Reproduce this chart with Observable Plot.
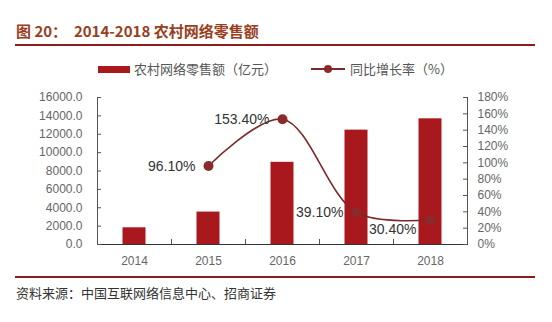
<!DOCTYPE html>
<html><head><meta charset="utf-8">
<script src="https://cdn.jsdelivr.net/npm/d3@7"></script>
<script src="https://cdn.jsdelivr.net/npm/@observablehq/plot@0.6"></script>
<style>
body{margin:0;background:#fff;}
#wrap{position:relative;width:552px;height:322px;overflow:hidden;font-family:"Liberation Sans",Arial,sans-serif;}
.abs{position:absolute;}
#title{left:16px;top:20px;font-family:"Noto Sans CJK SC";font-weight:bold;font-size:15px;color:#9a3e22;white-space:nowrap;}
.rule{position:absolute;left:15px;width:520px;height:2px;background:#8e1c1c;}
#caption{left:16px;top:283px;font-family:"Noto Sans CJK SC";font-size:13px;color:#333;white-space:nowrap;}
.leg{font-family:"Noto Sans CJK SC";font-size:13px;color:#555;white-space:nowrap;top:59px;}
#chart{left:0;top:85px;}
</style></head>
<body><div id="wrap">
<div id="title" class="abs">图 20：&nbsp; 2014-2018 农村网络零售额</div>
<div class="rule" style="top:44px"></div>
<div class="abs" style="left:98px;top:66px;width:32px;height:7px;background:#a8181d"></div>
<div class="abs leg" style="left:134px">农村网络零售额（亿元）</div>
<div class="abs" style="left:311px;top:68px;width:34px;height:2px;background:#7a2a2a"></div>
<div class="abs" style="left:324px;top:65px;width:8px;height:8px;border-radius:50%;background:#8a2b2b"></div>
<div class="abs leg" style="left:350px">同比增长率（%）</div>
<div id="chart" class="abs"></div>
<div class="rule" style="top:276px"></div>
<div id="caption" class="abs">资料来源：中国互联网络信息中心、招商证券</div>
</div>
<script>
const years = ["2014","2015","2016","2017","2018"];
const sales = [1817, 3530, 8945, 12449, 13679];
const growthYears = ["2015","2016","2017","2018"];
const growth = [96.1, 153.4, 39.1, 30.4];
const growthLabels = ["96.10%","153.40%","39.10%","30.40%"];
const leftTicks = [0,2000,4000,6000,8000,10000,12000,14000,16000];
const rightTicks = [0,20,40,60,80,100,120,140,160,180];

const K = 16000/180;
const barData = years.map((y,i)=>({year:y, v:sales[i]}));
const lineData = growthYears.map((y,i)=>({year:y, g:growth[i], label:growthLabels[i]}));
const W = 552, H = 187, mL = 97, mR = 85, mT = 12, mB = 28;
const pw = W - mL - mR, ph = H - mT - mB;
const axisColor = "#555", labelColor = "#666";

const chart = Plot.plot({
  width: W, height: H,
  marginLeft: mL, marginRight: mR, marginTop: mT, marginBottom: mB,
  style: {fontFamily: "Liberation Sans, Arial, sans-serif", fontSize: "12px", background: "#fff"},
  x: {type: "band", domain: years, padding: 0, axis: null},
  y: {domain: [0, 16000], axis: null},
  marks: [
    Plot.barY(barData, {x: "year", y: "v", fill: "#a8181d", insetLeft: 25.5, insetRight: 25.5}),
    Plot.frame({anchor: "left", stroke: axisColor}),
    Plot.frame({anchor: "right", stroke: axisColor}),
    Plot.frame({anchor: "bottom", stroke: "#333"}),
    Plot.ruleY(leftTicks, {y: d=>d, insetRight: pw - 4, stroke: axisColor}),
    Plot.text(leftTicks, {y: d=>d, frameAnchor: "left", dx: -15, textAnchor: "end", text: d=>d.toFixed(1), fill: labelColor, fontSize: 12}),
    Plot.ruleY(rightTicks, {y: d=>d*K, insetLeft: pw - 4, stroke: axisColor}),
    Plot.text(rightTicks, {y: d=>d*K, frameAnchor: "right", dx: 10, textAnchor: "start", text: d=>d+"%", fill: labelColor, fontSize: 12}),
    Plot.tickX(years.slice(1), {x: d=>d, dx: -pw/10, insetTop: ph - 5, stroke: axisColor}),
    Plot.text(years, {x: d=>d, frameAnchor: "bottom", dy: 20, text: d=>d, fill: labelColor, fontSize: 12}),
    Plot.line(lineData, {x: "year", y: d=>d.g*K, curve: "catmull-rom", stroke: "#7a2a2a", strokeWidth: 1.6}),
    Plot.dot(lineData, {x: "year", y: d=>d.g*K, r: 5, fill: "#8a2b2b", stroke: "none"}),
    Plot.text(lineData.slice(0,3), {x: "year", y: d=>d.g*K, text: "label", textAnchor: "end", dx: -13, fill: "#333", fontSize: 14}),
    Plot.text(lineData.slice(3), {x: "year", y: d=>d.g*K, text: "label", textAnchor: "end", dx: -14, dy: 10, fill: "#333", fontSize: 14})
  ]
});
document.getElementById("chart").appendChild(chart);
</script>
</body></html>
